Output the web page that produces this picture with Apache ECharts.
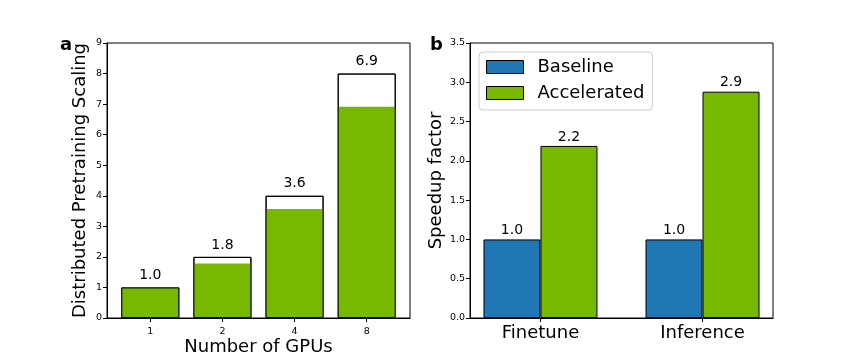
<!DOCTYPE html>
<html>
<head>
<meta charset="utf-8">
<title>GPU scaling and speedup</title>
<script src="https://cdn.jsdelivr.net/npm/echarts@6/dist/echarts.min.js"></script>
<style>
  body { margin: 0; background: #fff; }
  #chart { width: 859px; height: 358px; }
</style>
</head>
<body>
<div id="chart"></div>
<script>
  // panel a: scaling with number of GPUs
  var gpuLabels = ['1', '2', '4', '8'];
  var idealScaling = [1, 2, 4, 8];
  var actualScaling = [1.0, 1.78, 3.57, 6.91];
  var scalingText = ['1.0', '1.8', '3.6', '6.9'];

  // panel b: speedup factor
  var tasks = ['Finetune', 'Inference'];
  var baseline = [1.0, 1.0];
  var accelerated = [2.19, 2.88];
  var speedupText = [['1.0', '1.0'], ['2.2', '2.9']];

  var green = '#76b900';
  var blue = '#1f77b4';
  var font = 'DejaVu Sans';

  function pts(vals) {
    return vals.map(function (v, i) { return [i, v]; });
  }

  var chart = echarts.init(document.getElementById('chart'));

  var tickLabel = { fontFamily: font, fontSize: 9.5, color: '#000' };
  var nameStyle = { fontFamily: font, fontSize: 18, color: '#000' };
  var spine = { show: true, onZero: false, lineStyle: { color: '#000', width: 1 } };
  var ticks = { show: true, length: 4, lineStyle: { color: '#000', width: 1 } };

  var option = {
    animation: false,
    backgroundColor: '#fff',
    title: [
      { text: 'a', left: 55, top: 31, textStyle: { fontFamily: font, fontSize: 18, fontWeight: 'bold', color: '#000' } },
      { text: 'b', left: 425, top: 31, textStyle: { fontFamily: font, fontSize: 18, fontWeight: 'bold', color: '#000' } }
    ],
    grid: [
      { left: 107, top: 43, width: 303, height: 275, outerBoundsMode: 'none', show: true, borderColor: '#000', borderWidth: 1 },
      { left: 470, top: 43, width: 303, height: 275, outerBoundsMode: 'none', show: true, borderColor: '#000', borderWidth: 1 }
    ],
    legend: {
      data: ['Baseline', 'Accelerated'],
      orient: 'vertical',
      left: 479, top: 52,
      itemWidth: 37, itemHeight: 13, itemGap: 8,
      padding: [6, 8, 8, 7],
      borderColor: '#ccc', borderWidth: 1, borderRadius: 4,
      backgroundColor: '#fff',
      icon: 'rect',
      itemStyle: { borderColor: '#000', borderWidth: 1 },
      textStyle: { fontFamily: font, fontSize: 18, color: '#000', padding: [0, 0, 0, 9] }
    },
    xAxis: [
      {
        gridIndex: 0, type: 'value', min: -0.6, max: 3.6,
        axisLine: spine,
        splitLine: { show: false },
        axisTick: { ...ticks, customValues: [0, 1, 2, 3] },
        axisLabel: {
          customValues: [0, 1, 2, 3], margin: 9, ...tickLabel,
          formatter: function (v) { return gpuLabels[Math.round(v)]; }
        },
        name: 'Number of GPUs', nameLocation: 'middle', nameGap: 20, nameMoveOverlap: false, nameTextStyle: nameStyle
      },
      {
        gridIndex: 1, type: 'value', min: -0.435, max: 1.435,
        axisLine: spine,
        splitLine: { show: false },
        axisTick: { ...ticks, customValues: [0, 1] },
        axisLabel: {
          customValues: [0, 1], margin: 6, fontFamily: font, fontSize: 18, color: '#000',
          formatter: function (v) { return tasks[Math.round(v)]; }
        }
      }
    ],
    yAxis: [
      {
        gridIndex: 0, type: 'value', min: 0, max: 9, interval: 1,
        axisLine: spine,
        splitLine: { show: false },
        axisTick: ticks,
        axisLabel: { margin: 5, ...tickLabel },
        name: 'Distributed Pretraining Scaling', nameLocation: 'middle', nameGap: 18, nameMoveOverlap: false, nameTextStyle: nameStyle
      },
      {
        gridIndex: 1, type: 'value', min: 0, max: 3.5, interval: 0.5,
        axisLine: spine,
        splitLine: { show: false },
        axisTick: ticks,
        axisLabel: { margin: 5, ...tickLabel, formatter: function (v) { return v.toFixed(1); } },
        name: 'Speedup factor', nameLocation: 'middle', nameGap: 25, nameMoveOverlap: false, nameTextStyle: nameStyle
      }
    ],
    series: [
      {
        name: 'Ideal', type: 'bar', xAxisIndex: 0, yAxisIndex: 0,
        data: pts(idealScaling), barWidth: 58, barGap: '-100%',
        itemStyle: { color: '#fff', borderColor: '#000', borderWidth: 1 },
        label: {
          show: true, position: 'top', distance: 5, fontFamily: font, fontSize: 14, color: '#000',
          formatter: function (p) { return scalingText[p.dataIndex]; }
        }
      },
      {
        name: 'Actual', type: 'bar', xAxisIndex: 0, yAxisIndex: 0,
        data: pts(actualScaling), barWidth: 58, barGap: '-100%',
        itemStyle: { color: green }
      },
      {
        name: 'Outline', type: 'bar', xAxisIndex: 0, yAxisIndex: 0,
        data: pts(idealScaling), barWidth: 58, barGap: '-100%',
        itemStyle: { color: 'rgba(0,0,0,0)', borderColor: '#000', borderWidth: 1 }
      },
      {
        name: 'Baseline', type: 'bar', xAxisIndex: 1, yAxisIndex: 1,
        data: pts(baseline), barWidth: 57, barGap: '0%',
        itemStyle: { color: blue, borderColor: '#000', borderWidth: 1 },
        label: {
          show: true, position: 'top', distance: 2, fontFamily: font, fontSize: 14, color: '#000',
          formatter: function (p) { return speedupText[0][p.dataIndex]; }
        }
      },
      {
        name: 'Accelerated', type: 'bar', xAxisIndex: 1, yAxisIndex: 1,
        data: pts(accelerated), barWidth: 57, barGap: '0%',
        itemStyle: { color: green, borderColor: '#000', borderWidth: 1 },
        label: {
          show: true, position: 'top', distance: 2, fontFamily: font, fontSize: 14, color: '#000',
          formatter: function (p) { return speedupText[1][p.dataIndex]; }
        }
      }
    ]
  };

  chart.setOption(option);
</script>
</body>
</html>
